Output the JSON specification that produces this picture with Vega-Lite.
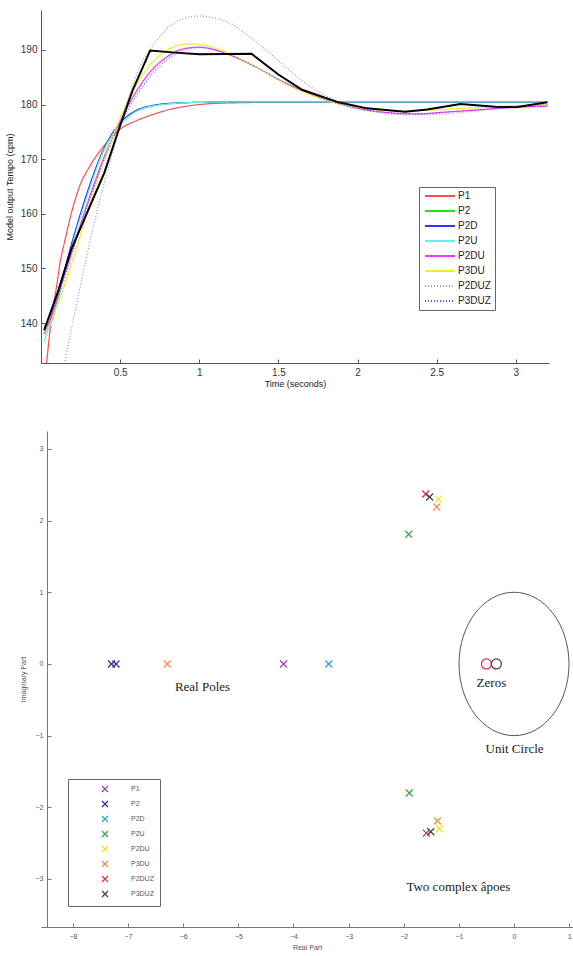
{
  "$schema": "https://vega.github.io/schema/vega-lite/v6.json",
  "padding": {"left": 5, "top": 10, "right": 0, "bottom": 0},
  "background": "white",
  "spacing": 43,
  "config": {
    "view": {"stroke": null},
    "font": "Liberation Sans",
    "axis": {"grid": false, "titleFontWeight": "normal", "labelFont": "Liberation Sans", "titleFont": "Liberation Sans", "domainColor": "#555", "tickColor": "#555"}
  },
  "resolve": {
    "scale": {"color": "independent", "strokeDash": "independent", "stroke": "independent"},
    "legend": {"color": "independent", "strokeDash": "independent"}
  },
  "datasets": {
    "model": [
      {"s":"P1","t":0.02,"v":128},{"s":"P1","t":0.04,"v":134},{"s":"P1","t":0.06,"v":139.5},{"s":"P1","t":0.08,"v":143.5},{"s":"P1","t":0.1,"v":147},{"s":"P1","t":0.12,"v":151},{"s":"P1","t":0.15,"v":155},{"s":"P1","t":0.2,"v":161},{"s":"P1","t":0.25,"v":165.5},{"s":"P1","t":0.3,"v":168.3},{"s":"P1","t":0.4,"v":172.5},{"s":"P1","t":0.5,"v":175.5},{"s":"P1","t":0.6,"v":177},{"s":"P1","t":0.7,"v":178.1},{"s":"P1","t":0.8,"v":179},{"s":"P1","t":0.9,"v":179.6},{"s":"P1","t":1.0,"v":180},{"s":"P1","t":1.2,"v":180.3},{"s":"P1","t":1.5,"v":180.4},{"s":"P1","t":2.0,"v":180.4},{"s":"P1","t":2.5,"v":180.4},{"s":"P1","t":3.2,"v":180.4},
      {"s":"P2","t":0.02,"v":139.5},{"s":"P2","t":0.05,"v":140},{"s":"P2","t":0.07,"v":140.5},{"s":"P2","t":0.1,"v":144},{"s":"P2","t":0.15,"v":149.5},{"s":"P2","t":0.2,"v":155},{"s":"P2","t":0.25,"v":159.8},{"s":"P2","t":0.3,"v":164.4},{"s":"P2","t":0.35,"v":168.5},{"s":"P2","t":0.4,"v":172},{"s":"P2","t":0.45,"v":174.7},{"s":"P2","t":0.5,"v":176.6},{"s":"P2","t":0.6,"v":178.8},{"s":"P2","t":0.7,"v":179.7},{"s":"P2","t":0.8,"v":180.1},{"s":"P2","t":0.9,"v":180.3},{"s":"P2","t":1.0,"v":180.4},{"s":"P2","t":1.5,"v":180.5},{"s":"P2","t":2.5,"v":180.5},{"s":"P2","t":3.2,"v":180.5},
      {"s":"P2D","t":0.02,"v":139},{"s":"P2D","t":0.05,"v":141},{"s":"P2D","t":0.1,"v":145},{"s":"P2D","t":0.15,"v":150},{"s":"P2D","t":0.2,"v":155.2},{"s":"P2D","t":0.3,"v":164.6},{"s":"P2D","t":0.4,"v":172.1},{"s":"P2D","t":0.5,"v":176.6},{"s":"P2D","t":0.6,"v":178.9},{"s":"P2D","t":0.7,"v":179.8},{"s":"P2D","t":0.8,"v":180.2},{"s":"P2D","t":1.0,"v":180.4},{"s":"P2D","t":1.5,"v":180.5},{"s":"P2D","t":3.2,"v":180.5},
      {"s":"P2U","t":0.02,"v":136.5},{"s":"P2U","t":0.04,"v":138.5},{"s":"P2U","t":0.07,"v":140.5},{"s":"P2U","t":0.1,"v":143.5},{"s":"P2U","t":0.15,"v":149},{"s":"P2U","t":0.2,"v":154.5},{"s":"P2U","t":0.3,"v":164},{"s":"P2U","t":0.4,"v":171.8},{"s":"P2U","t":0.5,"v":176.3},{"s":"P2U","t":0.6,"v":178.7},{"s":"P2U","t":0.7,"v":179.7},{"s":"P2U","t":0.8,"v":180.1},{"s":"P2U","t":1.0,"v":180.4},{"s":"P2U","t":1.5,"v":180.5},{"s":"P2U","t":3.2,"v":180.5},
      {"s":"P2DU","t":0.02,"v":138},{"s":"P2DU","t":0.05,"v":140},{"s":"P2DU","t":0.1,"v":144.5},{"s":"P2DU","t":0.2,"v":153.5},{"s":"P2DU","t":0.3,"v":162.5},{"s":"P2DU","t":0.4,"v":170.5},{"s":"P2DU","t":0.5,"v":177},{"s":"P2DU","t":0.6,"v":182.3},{"s":"P2DU","t":0.7,"v":186.3},{"s":"P2DU","t":0.8,"v":188.8},{"s":"P2DU","t":0.9,"v":190.2},{"s":"P2DU","t":1.0,"v":190.5},{"s":"P2DU","t":1.1,"v":190},{"s":"P2DU","t":1.2,"v":189},{"s":"P2DU","t":1.3,"v":187.7},{"s":"P2DU","t":1.4,"v":186.2},{"s":"P2DU","t":1.5,"v":184.6},{"s":"P2DU","t":1.6,"v":183.2},{"s":"P2DU","t":1.7,"v":182},{"s":"P2DU","t":1.8,"v":180.9},{"s":"P2DU","t":1.9,"v":180},{"s":"P2DU","t":2.0,"v":179.3},{"s":"P2DU","t":2.1,"v":178.8},{"s":"P2DU","t":2.2,"v":178.5},{"s":"P2DU","t":2.3,"v":178.3},{"s":"P2DU","t":2.4,"v":178.3},{"s":"P2DU","t":2.5,"v":178.5},{"s":"P2DU","t":2.6,"v":178.7},{"s":"P2DU","t":2.8,"v":179.1},{"s":"P2DU","t":3.0,"v":179.5},{"s":"P2DU","t":3.2,"v":179.7},
      {"s":"P3DU","t":0.02,"v":138.5},{"s":"P3DU","t":0.05,"v":139.5},{"s":"P3DU","t":0.1,"v":143},{"s":"P3DU","t":0.2,"v":151.5},{"s":"P3DU","t":0.3,"v":161},{"s":"P3DU","t":0.4,"v":170},{"s":"P3DU","t":0.5,"v":177.5},{"s":"P3DU","t":0.6,"v":183.5},{"s":"P3DU","t":0.7,"v":187.6},{"s":"P3DU","t":0.8,"v":190},{"s":"P3DU","t":0.9,"v":191},{"s":"P3DU","t":0.96,"v":191.1},{"s":"P3DU","t":1.0,"v":191},{"s":"P3DU","t":1.1,"v":190.3},{"s":"P3DU","t":1.2,"v":189.2},{"s":"P3DU","t":1.3,"v":187.8},{"s":"P3DU","t":1.4,"v":186.2},{"s":"P3DU","t":1.5,"v":184.5},{"s":"P3DU","t":1.6,"v":183},{"s":"P3DU","t":1.7,"v":181.8},{"s":"P3DU","t":1.8,"v":180.8},{"s":"P3DU","t":1.9,"v":180},{"s":"P3DU","t":2.0,"v":179.5},{"s":"P3DU","t":2.1,"v":179.1},{"s":"P3DU","t":2.2,"v":178.9},{"s":"P3DU","t":2.3,"v":178.8},{"s":"P3DU","t":2.4,"v":178.9},{"s":"P3DU","t":2.6,"v":179.2},{"s":"P3DU","t":2.8,"v":179.5},{"s":"P3DU","t":3.0,"v":179.8},{"s":"P3DU","t":3.2,"v":180},
      {"s":"P2DUZ","t":0.1,"v":125},{"s":"P2DUZ","t":0.15,"v":132.7},{"s":"P2DUZ","t":0.25,"v":147},{"s":"P2DUZ","t":0.35,"v":160},{"s":"P2DUZ","t":0.45,"v":171},{"s":"P2DUZ","t":0.55,"v":181},{"s":"P2DUZ","t":0.63,"v":187.3},{"s":"P2DUZ","t":0.7,"v":190.5},{"s":"P2DUZ","t":0.8,"v":194},{"s":"P2DUZ","t":0.9,"v":195.7},{"s":"P2DUZ","t":1.0,"v":196.2},{"s":"P2DUZ","t":1.1,"v":195.8},{"s":"P2DUZ","t":1.2,"v":194.8},{"s":"P2DUZ","t":1.3,"v":192.8},{"s":"P2DUZ","t":1.4,"v":190.5},{"s":"P2DUZ","t":1.5,"v":188},{"s":"P2DUZ","t":1.6,"v":185.5},{"s":"P2DUZ","t":1.7,"v":183.3},{"s":"P2DUZ","t":1.8,"v":181.6},{"s":"P2DUZ","t":1.9,"v":180.3},{"s":"P2DUZ","t":2.0,"v":179.4},{"s":"P2DUZ","t":2.1,"v":178.7},{"s":"P2DUZ","t":2.2,"v":178.3},{"s":"P2DUZ","t":2.3,"v":178.1},{"s":"P2DUZ","t":2.4,"v":178.1},{"s":"P2DUZ","t":2.5,"v":178.2},{"s":"P2DUZ","t":2.6,"v":178.4},{"s":"P2DUZ","t":2.8,"v":179},{"s":"P2DUZ","t":3.0,"v":179.6},{"s":"P2DUZ","t":3.2,"v":180},
      {"s":"P3DUZ","t":0.02,"v":138},{"s":"P3DUZ","t":0.1,"v":144},{"s":"P3DUZ","t":0.2,"v":153},{"s":"P3DUZ","t":0.3,"v":162},{"s":"P3DUZ","t":0.4,"v":170},{"s":"P3DUZ","t":0.5,"v":176.5},{"s":"P3DUZ","t":0.6,"v":181.5},{"s":"P3DUZ","t":0.7,"v":185.5},{"s":"P3DUZ","t":0.8,"v":188.3},{"s":"P3DUZ","t":0.9,"v":189.9},{"s":"P3DUZ","t":1.0,"v":190.4},{"s":"P3DUZ","t":1.1,"v":190},{"s":"P3DUZ","t":1.2,"v":189},{"s":"P3DUZ","t":1.3,"v":187.7},{"s":"P3DUZ","t":1.4,"v":186.2},{"s":"P3DUZ","t":1.5,"v":184.6},{"s":"P3DUZ","t":1.6,"v":183.2},{"s":"P3DUZ","t":1.7,"v":182},{"s":"P3DUZ","t":1.8,"v":180.9},{"s":"P3DUZ","t":1.9,"v":180},{"s":"P3DUZ","t":2.0,"v":179.3},{"s":"P3DUZ","t":2.2,"v":178.5},{"s":"P3DUZ","t":2.4,"v":178.3},{"s":"P3DUZ","t":2.6,"v":178.7},{"s":"P3DUZ","t":2.8,"v":179.1},{"s":"P3DUZ","t":3.0,"v":179.5},{"s":"P3DUZ","t":3.2,"v":179.8}
    ],
    "meas": [
      {"t":0.02,"v":138.7},{"t":0.11,"v":146},{"t":0.19,"v":153.4},{"t":0.4,"v":167.5},{"t":0.49,"v":175.3},{"t":0.58,"v":182.7},{"t":0.69,"v":189.9},{"t":0.85,"v":189.5},{"t":1.0,"v":189.2},{"t":1.33,"v":189.3},{"t":1.5,"v":185.5},{"t":1.65,"v":182.7},{"t":1.88,"v":180.4},{"t":2.06,"v":179.3},{"t":2.3,"v":178.7},{"t":2.44,"v":179.1},{"t":2.65,"v":180.1},{"t":2.87,"v":179.6},{"t":3.0,"v":179.5},{"t":3.2,"v":180.4}
    ],
    "poles": [
      {"s":"P1","re":-4.18,"im":0},
      {"s":"P2","re":-7.3,"im":0},{"s":"P2","re":-7.22,"im":0},
      {"s":"P2D","re":-3.36,"im":0},
      {"s":"P2U","re":-1.91,"im":1.81},{"s":"P2U","re":-1.9,"im":-1.8},
      {"s":"P2DU","re":-1.37,"im":2.3},{"s":"P2DU","re":-1.35,"im":-2.3},
      {"s":"P3DU","re":-6.29,"im":0},{"s":"P3DU","re":-1.4,"im":2.19},{"s":"P3DU","re":-1.39,"im":-2.19},
      {"s":"P2DUZ","re":-1.6,"im":2.37},{"s":"P2DUZ","re":-1.59,"im":-2.36},
      {"s":"P3DUZ","re":-1.53,"im":2.33},{"s":"P3DUZ","re":-1.51,"im":-2.34}
    ],
    "zeros": [
      {"s":"P2DUZ","re":-0.5,"im":0},
      {"s":"P3DUZ","re":-0.32,"im":0}
    ],
    "unit": [{"re":0,"im":0}],
    "notes": [
      {"re":-5.65,"im":-0.32,"label":"Real Poles"},
      {"re":-0.41,"im":-0.27,"label":"Zeros"},
      {"re":0.01,"im":-1.19,"label":"Unit Circle"},
      {"re":-1.01,"im":-3.11,"label":"Two complex âpoes"}
    ]
  },
  "vconcat": [
    {
      "width": 508,
      "height": 353,
      "layer": [
        {
          "data": {"name": "model"},
          "mark": {"type": "line", "clip": true, "interpolate": "monotone", "strokeWidth": 1.2},
          "encoding": {
            "x": {"field": "t", "type": "quantitative", "scale": {"domain": [0, 3.21], "nice": false},
              "axis": {"values": [0.5, 1, 1.5, 2, 2.5, 3], "format": "~g", "title": "Time (seconds)", "tickSize": -4, "labelPadding": 8, "labelFontSize": 10, "titleFontSize": 9, "titlePadding": 2, "labelColor": "#333", "titleColor": "#222"}},
            "y": {"field": "v", "type": "quantitative", "scale": {"domain": [132.7, 197.3], "nice": false, "zero": false},
              "axis": {"values": [140, 150, 160, 170, 180, 190], "title": "Model output Tempo (cpm)", "tickSize": -4, "labelPadding": 8, "labelFontSize": 10, "titleFontSize": 9, "titlePadding": 6, "labelColor": "#333", "titleColor": "#222"}},
            "color": {"field": "s", "type": "nominal",
              "scale": {"domain": ["P1","P2","P2D","P2U","P2DU","P3DU","P2DUZ","P3DUZ"], "range": ["#ff4d4d","#22dd22","#3333ff","#66f0f0","#ff33ff","#eeee22","#999999","#5555ff"]},
              "legend": {"orient": "none", "legendX": 378, "legendY": 177, "title": null, "fillColor": "white", "strokeColor": "#666", "padding": 4, "symbolType": "M-5,0L5,0", "symbolSize": 36, "symbolStrokeWidth": 2, "symbolOffset": 12, "labelOffset": 13, "labelFontSize": 10, "labelColor": "#222", "rowPadding": 5}},
            "strokeDash": {"field": "s", "type": "nominal",
              "scale": {"domain": ["P1","P2","P2D","P2U","P2DU","P3DU","P2DUZ","P3DUZ"], "range": [[1,0],[1,0],[1,0],[1,0],[1,0],[1,0],[1,2],[1,2]]},
              "legend": {"orient": "none", "legendX": 378, "legendY": 177, "title": null, "fillColor": "white", "strokeColor": "#666", "padding": 4, "symbolType": "M-5,0L5,0", "symbolSize": 36, "symbolStrokeWidth": 2, "symbolOffset": 12, "labelOffset": 13, "labelFontSize": 10, "labelColor": "#222", "rowPadding": 5}}
          }
        },
        {
          "data": {"name": "meas"},
          "mark": {"type": "line", "clip": true, "color": "#000000", "strokeWidth": 2},
          "encoding": {
            "x": {"field": "t", "type": "quantitative"},
            "y": {"field": "v", "type": "quantitative"}
          }
        }
      ]
    },
    {
      "width": 532,
      "height": 496,
      "layer": [
        {
          "data": {"name": "unit"},
          "mark": {"type": "point", "shape": "M-0.767,0A0.767,1 0 1,1 0.767,0A0.767,1 0 1,1 -0.767,0", "size": 20560, "filled": false, "stroke": "#555", "strokeWidth": 1, "opacity": 1},
          "encoding": {
            "x": {"field": "re", "type": "quantitative", "scale": {"domain": [-8.58, 1.07], "nice": false, "zero": false},
              "axis": {"values": [-8,-7,-6,-5,-4,-3,-2,-1,0,1], "format": "d", "title": "Real Part", "tickSize": -4, "labelPadding": 9, "labelFontSize": 7, "titleFontSize": 7, "titlePadding": 4, "labelColor": "#555", "titleColor": "#555", "domainColor": "#777", "tickColor": "#777"}},
            "y": {"field": "im", "type": "quantitative", "scale": {"domain": [-3.67, 3.25], "nice": false, "zero": false},
              "axis": {"values": [-3,-2,-1,0,1,2,3], "format": "d", "title": "Imaginary Part", "offset": -6, "tickSize": -4, "labelPadding": 8, "labelFontSize": 7, "titleFontSize": 7, "titlePadding": 9, "labelColor": "#555", "titleColor": "#555", "domainColor": "#777", "tickColor": "#777"}}
          }
        },
        {
          "data": {"name": "zeros"},
          "mark": {"type": "point", "shape": "circle", "size": 100, "filled": false, "strokeWidth": 1.2, "opacity": 1},
          "encoding": {
            "x": {"field": "re", "type": "quantitative"},
            "y": {"field": "im", "type": "quantitative"},
            "stroke": {"field": "s", "type": "nominal", "scale": {"domain": ["P2DUZ","P3DUZ"], "range": ["#e03040","#444444"]}, "legend": null}
          }
        },
        {
          "data": {"name": "poles"},
          "mark": {"type": "point", "shape": "M-1,-1L1,1M-1,1L1,-1", "size": 49, "filled": false, "strokeWidth": 1.3, "opacity": 1},
          "encoding": {
            "x": {"field": "re", "type": "quantitative"},
            "y": {"field": "im", "type": "quantitative"},
            "color": {"field": "s", "type": "nominal",
              "scale": {"domain": ["P1","P2","P2D","P2U","P2DU","P3DU","P2DUZ","P3DUZ"], "range": ["#a040b0","#303090","#30a0d0","#40a050","#e6e620","#f09050","#e03040","#404040"]},
              "legend": {"orient": "none", "legendX": 27, "legendY": 348, "title": null, "fillColor": "white", "strokeColor": "#666", "padding": 6, "symbolType": "M-1,-1L1,1M-1,1L1,-1", "symbolSize": 36, "symbolStrokeWidth": 1.3, "symbolOffset": 27, "labelOffset": 22, "labelFontSize": 7, "labelColor": "#555", "rowPadding": 3, "labelExpr": "datum.label + '\u00a0\u00a0\u00a0\u00a0\u00a0\u00a0\u00a0\u00a0\u00a0\u00a0\u00a0\u00a0\u00a0\u00a0\u00a0\u00a0\u00a0\u00a0'"}}
          }
        },
        {
          "data": {"name": "notes"},
          "mark": {"type": "text", "font": "Liberation Serif", "fontSize": 13, "color": "#1a1a1a", "align": "center", "baseline": "middle"},
          "encoding": {
            "x": {"field": "re", "type": "quantitative"},
            "y": {"field": "im", "type": "quantitative"},
            "text": {"field": "label"}
          }
        }
      ]
    }
  ]
}
